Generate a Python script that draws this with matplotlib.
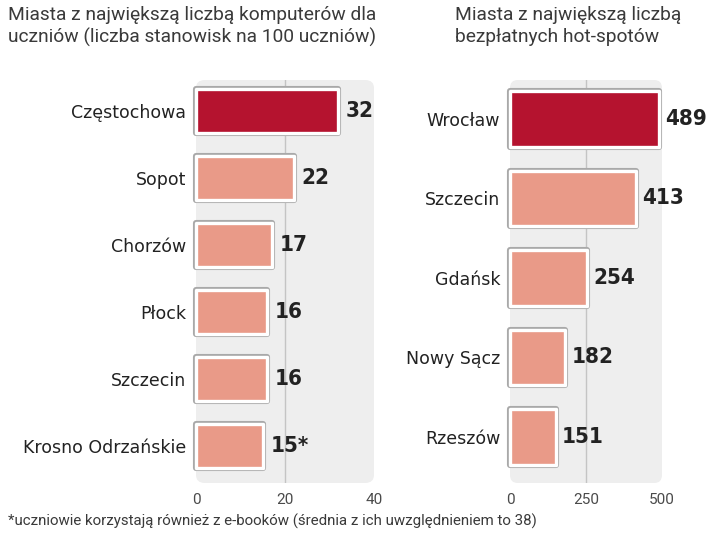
import matplotlib.pyplot as plt
from matplotlib.patches import FancyBboxPatch

# komputery dla uczniow (stanowiska na 100 uczniow)
cities_pc = ["Częstochowa", "Sopot", "Chorzów", "Płock", "Szczecin", "Krosno Odrzańskie"]
values_pc = [32, 22, 17, 16, 16, 15]
labels_pc = ["32", "22", "17", "16", "16", "15*"]

# bezplatne hot-spoty
cities_hs = ["Wrocław", "Szczecin", "Gdańsk", "Nowy Sącz", "Rzeszów"]
values_hs = [489, 413, 254, 182, 151]
labels_hs = ["489", "413", "254", "182", "151"]

ticks_pc = [0, 20, 40]
ticks_hs = [0, 250, 500]

title_pc = "Miasta z największą liczbą komputerów dla\nuczniów (liczba stanowisk na 100 uczniów)"
title_hs = "Miasta z największą liczbą\nbezpłatnych hot-spotów"
note = "*uczniowie korzystają również z e-booków (średnia z ich uwzględnieniem to 38)"

DARK = "#b5132f"
LIGHT = "#e99a88"
PANEL = "#eeeeee"
TXT = "#222222"

fig = plt.figure(figsize=(7.2, 5.36), dpi=100)

W, H = 720, 536
bottom = 1 - 483 / H
height = (483 - 80) / H
ax1 = fig.add_axes([196 / W, bottom, (374 - 196) / W, height])
ax2 = fig.add_axes([510 / W, bottom, (662 - 510) / W, height])


def draw(ax, cities, values, labels, ticks, xmax, ylim, bar_h, pad):
    ax.set_facecolor("none")
    for s in ax.spines.values():
        s.set_visible(False)
    ax.add_patch(FancyBboxPatch((0, 0), 1, 1, boxstyle="round,pad=0,rounding_size=0.05",
                                transform=ax.transAxes, facecolor=PANEL, edgecolor="none",
                                zorder=0, mutation_aspect=0.4, clip_on=False))
    ax.axvline(ticks[1], color="#c4c4c4", lw=1, zorder=1)
    pos = list(range(len(cities)))
    colors = [DARK] + [LIGHT] * (len(cities) - 1)
    # grey outline behind, white rim on top
    outer = ax.barh(pos, values, height=bar_h, color="none", edgecolor="#a9a9a9",
                    linewidth=4.4, zorder=2)
    bars = ax.barh(pos, values, height=bar_h, color=colors, edgecolor="white",
                   linewidth=2.4, zorder=3)
    for b in list(outer) + list(bars):
        b.set_joinstyle("round")
        b.set_clip_on(False)
    for p, v, l in zip(pos, values, labels):
        ax.text(v + pad, p, l, va="center", ha="left", fontsize=16, fontweight="bold",
                fontstretch="condensed", family="DejaVu Sans", color=TXT, clip_on=False)
    ax.set_xlim(0, xmax)
    ax.set_ylim(*ylim)
    ax.set_yticks(pos)
    ax.set_yticklabels(cities, fontsize=12.5, color=TXT, family="DejaVu Sans")
    ax.tick_params(axis="y", length=0, pad=7)
    ax.set_xticks(ticks)
    ax.set_xticklabels([str(t) for t in ticks], fontsize=11, color="#4a4a4a",
                       family="Roboto")
    ax.tick_params(axis="x", length=0, pad=7)


draw(ax1, cities_pc, values_pc, labels_pc, ticks_pc, 40, (5.55, -0.46), 0.66, 1.7)
draw(ax2, cities_hs, values_hs, labels_hs, ticks_hs, 500, (4.58, -0.49), 0.70, 20)

fig.text(8 / W, 1 - 6 / H, title_pc, ha="left", va="top", fontsize=13.8, family="Roboto",
         color="#3a3a3a", linespacing=1.25)
fig.text(455 / W, 1 - 6 / H, title_hs, ha="left", va="top", fontsize=13.8, family="Roboto",
         color="#3a3a3a", linespacing=1.25)
fig.text(8 / W, 1 - 521 / H, note, ha="left", va="center", fontsize=10.8, family="Roboto",
         color="#3a3a3a")

fig.savefig("out.png", dpi=100)
